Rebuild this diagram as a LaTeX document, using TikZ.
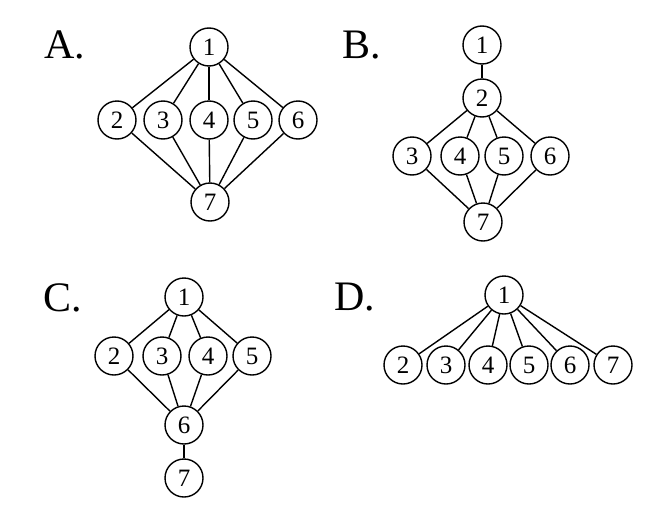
\documentclass[tikz,border=0pt]{standalone}
\usepackage{fontspec}
\setmainfont{Liberation Serif}
\begin{document}
\begin{tikzpicture}[x=1pt,y=-1pt,
  vert/.style={circle,draw,line width=1.4pt,minimum size=38pt,inner sep=0pt,font=\fontsize{25}{25}\selectfont},
  lbl/.style={font=\fontsize{42}{42}\selectfont,anchor=center},
  edge/.style={line width=1.4pt}]
\useasboundingbox (0,0) rectangle (655,514);
% A
\node[lbl] (LA) at (65,45) {A.};
\node[vert] (a1) at (209,47) {1};
\node[vert] (a2) at (117,120) {2};
\node[vert] (a3) at (163,120) {3};
\node[vert] (a4) at (209,120) {4};
\node[vert] (a5) at (253,120) {5};
\node[vert] (a6) at (298,120) {6};
\node[vert] (a7) at (210,202) {7};
\foreach \i in {2,...,6}{\draw[edge] (a1) -- (a\i); \draw[edge] (a\i) -- (a7);}
% B
\node[lbl] (LB) at (362,45) {B.};
\node[vert] (b1) at (482,45) {1};
\node[vert] (b2) at (482,98) {2};
\node[vert] (b3) at (412,156) {3};
\node[vert] (b4) at (460,156) {4};
\node[vert] (b5) at (504,156) {5};
\node[vert] (b6) at (550,156) {6};
\node[vert] (b7) at (483,222) {7};
\draw[edge] (b1) -- (b2);
\foreach \i in {3,...,6}{\draw[edge] (b2) -- (b\i); \draw[edge] (b\i) -- (b7);}
% C
\node[lbl] (LC) at (63,298) {C.};
\node[vert] (c1) at (184,297) {1};
\node[vert] (c2) at (114,356) {2};
\node[vert] (c3) at (162,356) {3};
\node[vert] (c4) at (208,356) {4};
\node[vert] (c5) at (252,356) {5};
\node[vert] (c6) at (184,425) {6};
\node[vert] (c7) at (184,478) {7};
\draw[edge] (c6) -- (c7);
\foreach \i in {2,...,5}{\draw[edge] (c1) -- (c\i); \draw[edge] (c\i) -- (c6);}
% D
\node[lbl] (LD) at (355,297) {D.};
\node[vert] (d1) at (504,295) {1};
\node[vert] (d2) at (403,365) {2};
\node[vert] (d3) at (446,365) {3};
\node[vert] (d4) at (488,365) {4};
\node[vert] (d5) at (529,365) {5};
\node[vert] (d6) at (570,365) {6};
\node[vert] (d7) at (613,365) {7};
\foreach \i in {2,...,7}{\draw[edge] (d1) -- (d\i);}
\end{tikzpicture}
\end{document}
